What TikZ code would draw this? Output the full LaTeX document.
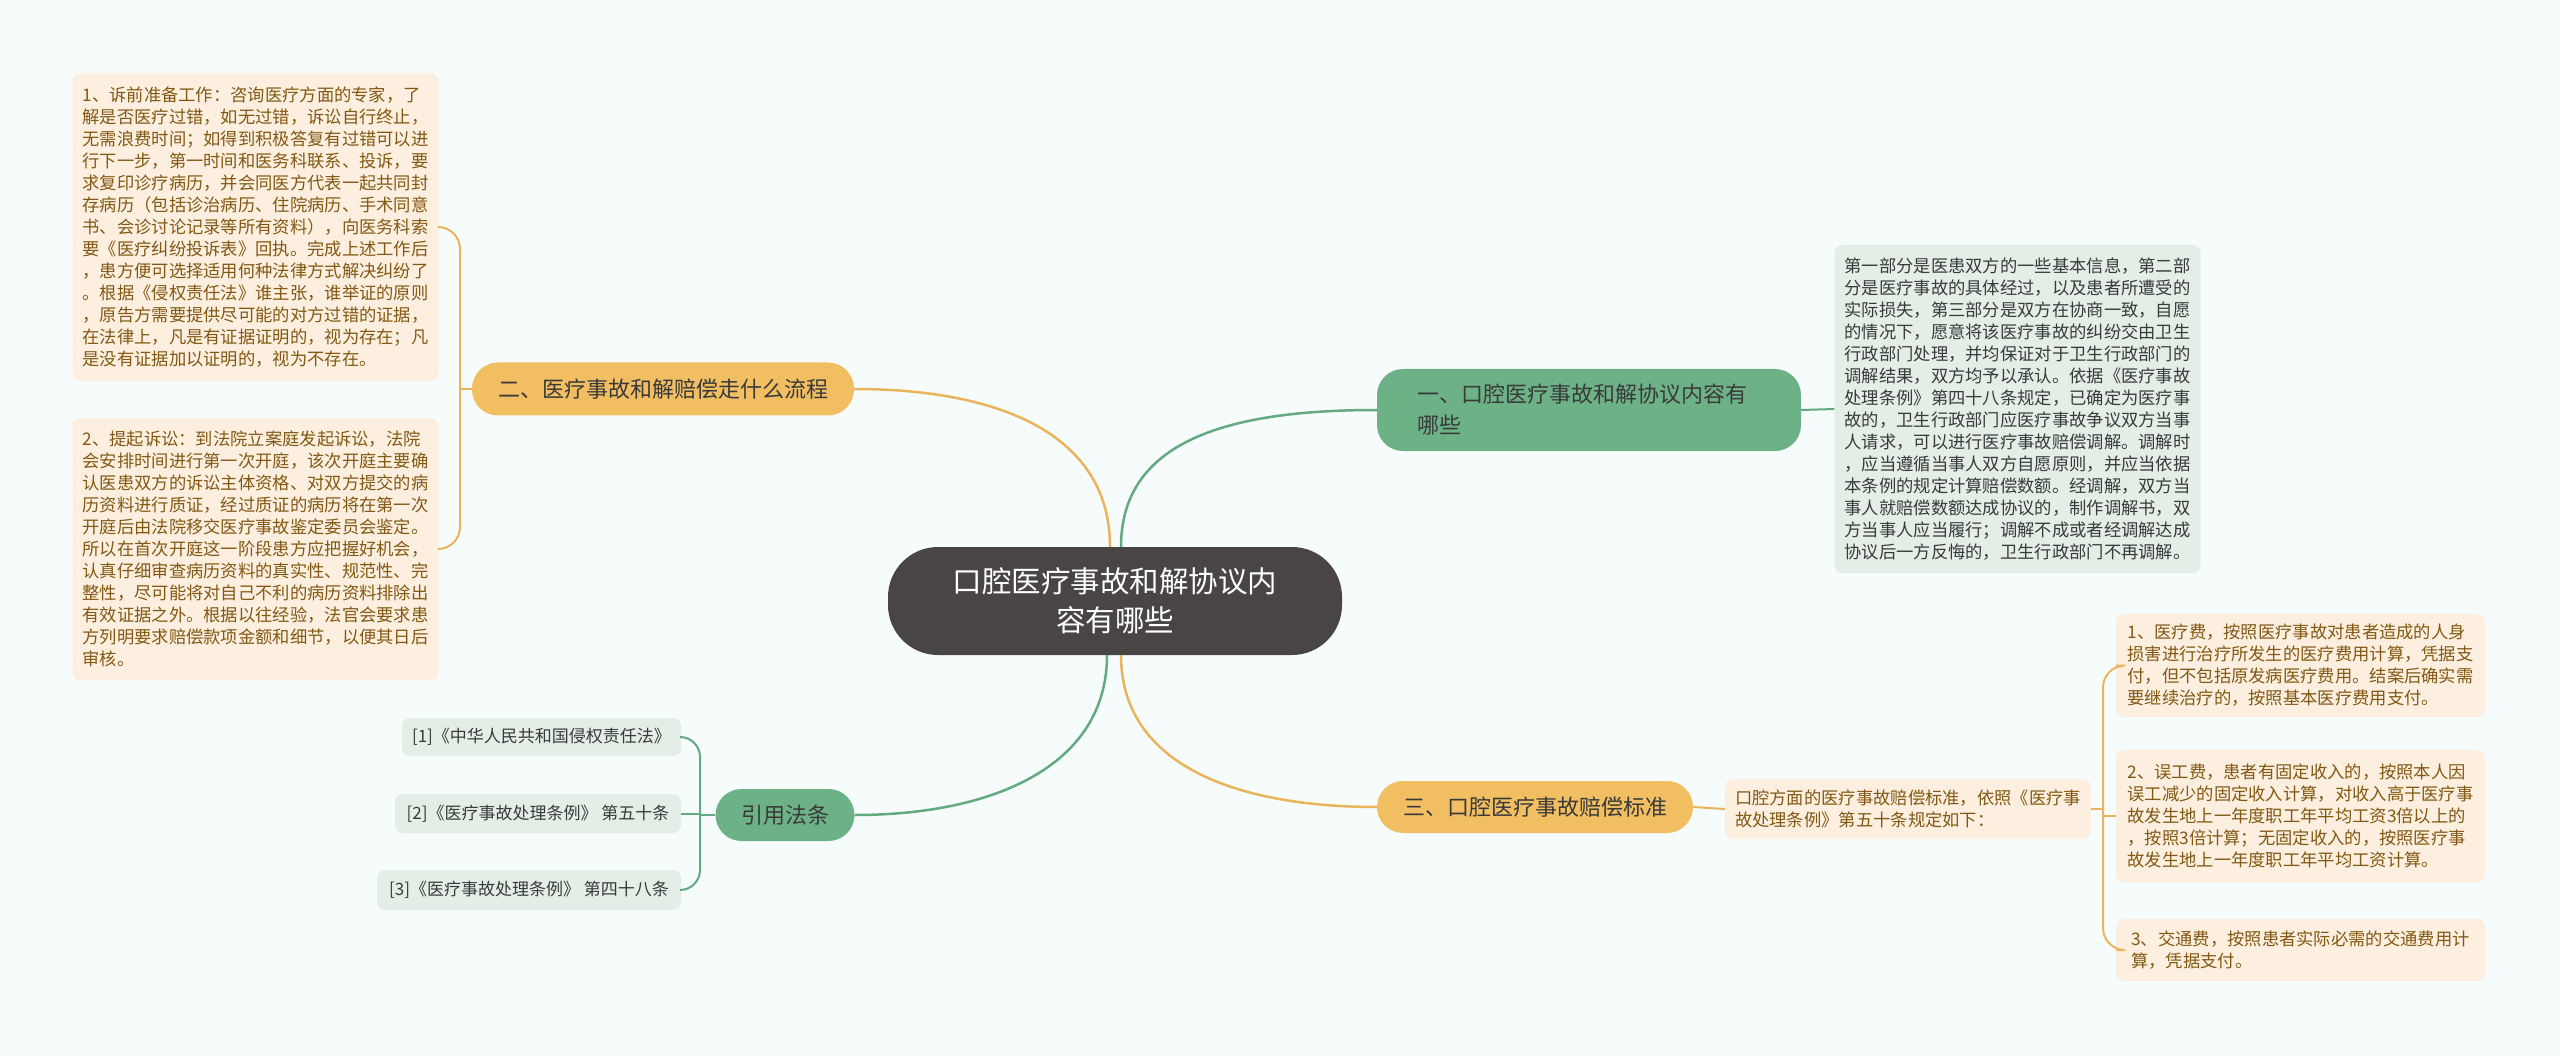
\documentclass[tikz,border=0pt]{standalone}
\usepackage{fontspec}
\setmainfont{Noto Sans CJK SC}
\definecolor{bgc}{HTML}{F6FBFB}
\definecolor{centralc}{HTML}{4A4545}
\definecolor{greenb}{HTML}{6DB287}
\definecolor{greenl}{HTML}{64AA80}
\definecolor{greend}{HTML}{E3EEE7}
\definecolor{orangeb}{HTML}{F2BE62}
\definecolor{orangel}{HTML}{E9B55C}
\definecolor{peach}{HTML}{FCEFE0}
\definecolor{brownt}{HTML}{835812}
\definecolor{darkt}{HTML}{3A3A3A}
\tikzset{
  central/.style={fill=centralc, text=white, rounded corners=50pt, minimum width=454pt, minimum height=108pt, align=center, font=\fontsize{29.5}{39}\selectfont},
  branchg/.style={fill=greenb, text=darkt, rounded corners=26pt, align=left, font=\fontsize{22}{31}\selectfont},
  brancho/.style={fill=orangeb, text=darkt, rounded corners=26pt, align=left, font=\fontsize{22}{31}\selectfont},
  detailg/.style={fill=greend, text=darkt, rounded corners=8pt, align=left, inner xsep=10pt, font=\fontsize{17.3}{22}\selectfont},
  detailo/.style={fill=peach, text=brownt, rounded corners=8pt, align=left, inner xsep=10pt, font=\fontsize{17.3}{22}\selectfont},
  refbox/.style={fill=greend, text=darkt, rounded corners=8pt, align=center, font=\fontsize{17}{20}\selectfont},
  glink/.style={draw=greenl, line width=2.5pt},
  olink/.style={draw=orangel, line width=2.5pt},
}
\begin{document}
\begin{tikzpicture}[x=1pt,y=-1pt]
\useasboundingbox[fill=bgc] (0,0) rectangle (2560,1056);

% central
\node[central] (c) at (1115,601) {口腔医疗事故和解协议内\\容有哪些};

% branches
\node[branchg, minimum width=424pt, minimum height=82pt, inner xsep=40pt, text width=344pt] (b1) at (1589,410) {一、口腔医疗事故和解协议内容有\\哪些};
\node[brancho, minimum width=382pt, minimum height=53pt] (b2) at (663,389) {二、医疗事故和解赔偿走什么流程};
\node[brancho, minimum width=316pt, minimum height=52pt] (b3) at (1535,807) {三、口腔医疗事故赔偿标准};
\node[branchg, minimum width=139pt, minimum height=52pt] (b4) at (785,815) {引用法条};

% detail boxes
\node[detailg, minimum width=365pt, minimum height=328pt] (d1) at (2017.5,409) {第一部分是医患双方的一些基本信息，第二部\\分是医疗事故的具体经过，以及患者所遭受的\\实际损失，第三部分是双方在协商一致，自愿\\的情况下，愿意将该医疗事故的纠纷交由卫生\\行政部门处理，并均保证对于卫生行政部门的\\调解结果，双方均予以承认。依据《医疗事故\\处理条例》第四十八条规定，已确定为医疗事\\故的，卫生行政部门应医疗事故争议双方当事\\人请求，可以进行医疗事故赔偿调解。调解时\\，应当遵循当事人双方自愿原则，并应当依据\\本条例的规定计算赔偿数额。经调解，双方当\\事人就赔偿数额达成协议的，制作调解书，双\\方当事人应当履行；调解不成或者经调解达成\\协议后一方反悔的，卫生行政部门不再调解。};

\node[detailo, minimum width=365pt, minimum height=308pt] (L1) at (255.5,227) {1、诉前准备工作：咨询医疗方面的专家，了\\解是否医疗过错，如无过错，诉讼自行终止，\\无需浪费时间；如得到积极答复有过错可以进\\行下一步，第一时间和医务科联系、投诉，要\\求复印诊疗病历，并会同医方代表一起共同封\\存病历（包括诊治病历、住院病历、手术同意\\书、会诊讨论记录等所有资料），向医务科索\\要《医疗纠纷投诉表》回执。完成上述工作后\\，患方便可选择适用何种法律方式解决纠纷了\\。根据《侵权责任法》谁主张，谁举证的原则\\，原告方需要提供尽可能的对方过错的证据，\\在法律上，凡是有证据证明的，视为存在；凡\\是没有证据加以证明的，视为不存在。};

\node[detailo, minimum width=365pt, minimum height=262pt] (L2) at (255.5,549) {2、提起诉讼：到法院立案庭发起诉讼，法院\\会安排时间进行第一次开庭，该次开庭主要确\\认医患双方的诉讼主体资格、对双方提交的病\\历资料进行质证，经过质证的病历将在第一次\\开庭后由法院移交医疗事故鉴定委员会鉴定。\\所以在首次开庭这一阶段患方应把握好机会，\\认真仔细审查病历资料的真实性、规范性、完\\整性，尽可能将对自己不利的病历资料排除出\\有效证据之外。根据以往经验，法官会要求患\\方列明要求赔偿款项金额和细节，以便其日后\\审核。};

\node[detailo, minimum width=362pt, minimum height=60pt] (S3) at (1908,809) {口腔方面的医疗事故赔偿标准，依照《医疗事\\故处理条例》第五十条规定如下：};

\node[detailo, minimum width=369pt, minimum height=103pt] (R1) at (2300.5,665.5) {1、医疗费，按照医疗事故对患者造成的人身\\损害进行治疗所发生的医疗费用计算，凭据支\\付，但不包括原发病医疗费用。结案后确实需\\要继续治疗的，按照基本医疗费用支付。};
\node[detailo, minimum width=369pt, minimum height=132pt] (R2) at (2300.5,816) {2、误工费，患者有固定收入的，按照本人因\\误工减少的固定收入计算，对收入高于医疗事\\故发生地上一年度职工年平均工资3倍以上的\\，按照3倍计算；无固定收入的，按照医疗事\\故发生地上一年度职工年平均工资计算。};
\node[detailo, minimum width=369pt, minimum height=62pt] (R3) at (2300.5,950) {3、交通费，按照患者实际必需的交通费用计\\算，凭据支付。};

% references
\node[refbox, minimum width=279pt, minimum height=38pt] (ref1) at (541.5,737) {[1]《中华人民共和国侵权责任法》};
\node[refbox, minimum width=286pt, minimum height=39pt] (ref2) at (538,813.5) {[2]《医疗事故处理条例》 第五十条};
\node[refbox, minimum width=304pt, minimum height=40pt] (ref3) at (529,890) {[3]《医疗事故处理条例》 第四十八条};

% main connectors
\draw[glink] ([xshift=6pt]c.north) .. controls +(0,-110) and +(-140,0) .. (b1.west);
\draw[olink] ([xshift=-5pt]c.north) .. controls +(0,-110) and +(150,0) .. (b2.east);
\draw[olink] ([xshift=6pt]c.south) .. controls +(0,110) and +(-140,0) .. (b3.west);
\draw[glink] ([xshift=-8pt]c.south) .. controls +(0,110) and +(140,0) .. (b4.east);

% secondary
\draw[glink, line width=2pt] (b1.east) -- (d1.west);
\draw[olink, line width=2pt] (b3.east) -- (S3.west);

\coordinate (kL) at (460,389);
\draw[olink, line width=2pt] (b2.west) -- (kL);
\draw[olink, line width=2pt, rounded corners=22pt] (L1.east) -| (kL) |- (L2.east);

\coordinate (kR) at (2103,809);
\draw[olink, line width=2pt] (S3.east) -- (kR);
\draw[olink, line width=2pt, rounded corners=22pt] (R1.west) -| (kR) |- (R3.west);
\draw[olink, line width=2pt] (kR |- R2.west) -- (R2.west);

\coordinate (kB) at (700,815);
\draw[glink, line width=2pt] (b4.west) -- (kB);
\draw[glink, line width=2pt, rounded corners=20pt] (ref1.east) -| (kB) |- (ref3.east);
\draw[glink, line width=2pt] (kB |- ref2.east) -- (ref2.east);
\end{tikzpicture}
\end{document}
